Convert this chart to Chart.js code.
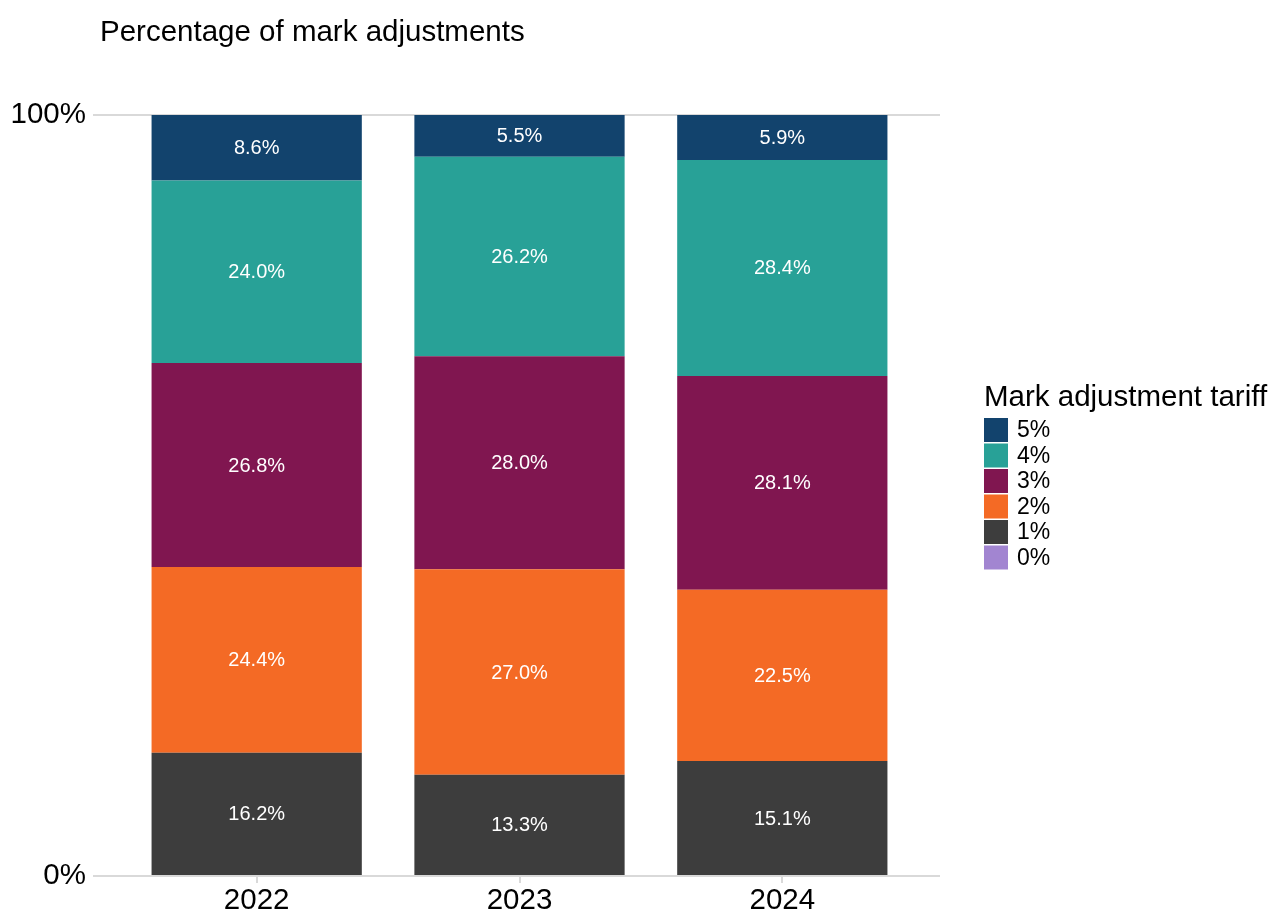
<!DOCTYPE html>
<html lang="en">
<head>
  <meta charset="UTF-8" />
  <title>Percentage of mark adjustments</title>
  <script src="https://cdn.jsdelivr.net/npm/chart.js@4.4.1/dist/chart.umd.min.js"></script>
  <style>
    *{margin:0;padding:0;box-sizing:border-box}
    body{background:#fff}
    .wrap{width:1268px;height:911px;position:relative}
  </style>
</head>
<body>
  <div class="wrap"><canvas id="chart"></canvas></div>

  <script>
    // data
    const years = ['2022', '2023', '2024'];
    const tariffs = ['0%', '1%', '2%', '3%', '4%', '5%'];
    const pct0 = [0, 0, 0];
    const pct1 = [16.2, 13.3, 15.1];
    const pct2 = [24.4, 27.0, 22.5];
    const pct3 = [26.8, 28.0, 28.1];
    const pct4 = [24.0, 26.2, 28.4];
    const pct5 = [8.6, 5.5, 5.9];
    const yTicks = [0, 100];

    const colours = ['#a285d1', '#3d3d3d', '#f46a25', '#801650', '#28a197', '#12436d'];
    const FONT = '"Liberation Sans", Arial, sans-serif';

    const series = [pct0, pct1, pct2, pct3, pct4, pct5];
    const datasets = series.map((vals, s) => ({
      label: tariffs[s],
      data: vals.map((v, i) => ({x: i + 1, y: v})),
      backgroundColor: colours[s],
      borderWidth: 0,
      barPercentage: 0.8,
      categoryPercentage: 1
    }));

    // white value labels in the middle of each segment
    const segLabels = {
      id: 'segLabels',
      afterDatasetsDraw(chart) {
        const ctx = chart.ctx;
        ctx.save();
        ctx.fillStyle = '#fff';
        ctx.font = '20px ' + FONT;
        ctx.textAlign = 'center';
        ctx.textBaseline = 'middle';
        chart.data.datasets.forEach((ds, d) => {
          chart.getDatasetMeta(d).data.forEach((el, i) => {
            const v = ds.data[i].y;
            if (v > 0) ctx.fillText(v.toFixed(1) + '%', el.x, (el.y + el.base) / 2 + 1);
          });
        });
        ctx.restore();
      }
    };

    // title top-left and legend on the right
    const extras = {
      id: 'extras',
      afterDraw(chart) {
        const ctx = chart.ctx;
        const area = chart.chartArea;
        ctx.save();
        ctx.fillStyle = '#000';
        ctx.textAlign = 'left';
        ctx.textBaseline = 'middle';
        ctx.font = '29.5px ' + FONT;
        ctx.fillText('Percentage of mark adjustments', 100, 33);

        const lx = area.right + 44;
        ctx.fillText('Mark adjustment tariff', lx, 398);
        ctx.font = '23px ' + FONT;
        const items = chart.data.datasets.slice().reverse();
        items.forEach((ds, k) => {
          const top = 418 + k * 25.5;
          ctx.fillStyle = ds.backgroundColor;
          ctx.fillRect(lx, top, 24, 24);
          ctx.fillStyle = '#000';
          ctx.fillText(ds.label, lx + 33, top + 13);
        });
        ctx.restore();
      }
    };

    new Chart(document.getElementById('chart').getContext('2d'), {
      type: 'bar',
      data: {datasets},
      options: {
        responsive: true,
        maintainAspectRatio: false,
        animation: false,
        layout: {padding: {left: 12, right: 328, top: 115, bottom: 0}},
        plugins: {legend: {display: false}, tooltip: {enabled: false}},
        scales: {
          x: {
            type: 'linear',
            stacked: true,
            offset: false,
            min: 0.4,
            max: 3.6,
            afterBuildTicks: a => { a.ticks = years.map((_, i) => ({value: i + 1})); },
            afterFit: s => { s.height = 35; },
            border: {display: false},
            grid: {offset: false, drawOnChartArea: false, drawTicks: true, tickLength: 7, color: '#d9d9d9', lineWidth: 2},
            ticks: {
              padding: 0,
              color: '#000',
              font: {family: FONT, size: 29.5},
              maxRotation: 0,
              callback: v => years[v - 1] ?? ''
            }
          },
          y: {
            stacked: true,
            min: 0,
            max: 100,
            afterBuildTicks: a => { a.ticks = yTicks.map(v => ({value: v})); },
            afterFit: s => { s.width = 87; },
            border: {display: false},
            grid: {color: '#d9d9d9', lineWidth: 2, tickLength: 6},
            ticks: {
              padding: 7,
              color: '#000',
              font: {family: FONT, size: 29.5},
              callback: v => v + '%'
            }
          }
        }
      },
      plugins: [segLabels, extras]
    });
  </script>
</body>
</html>
